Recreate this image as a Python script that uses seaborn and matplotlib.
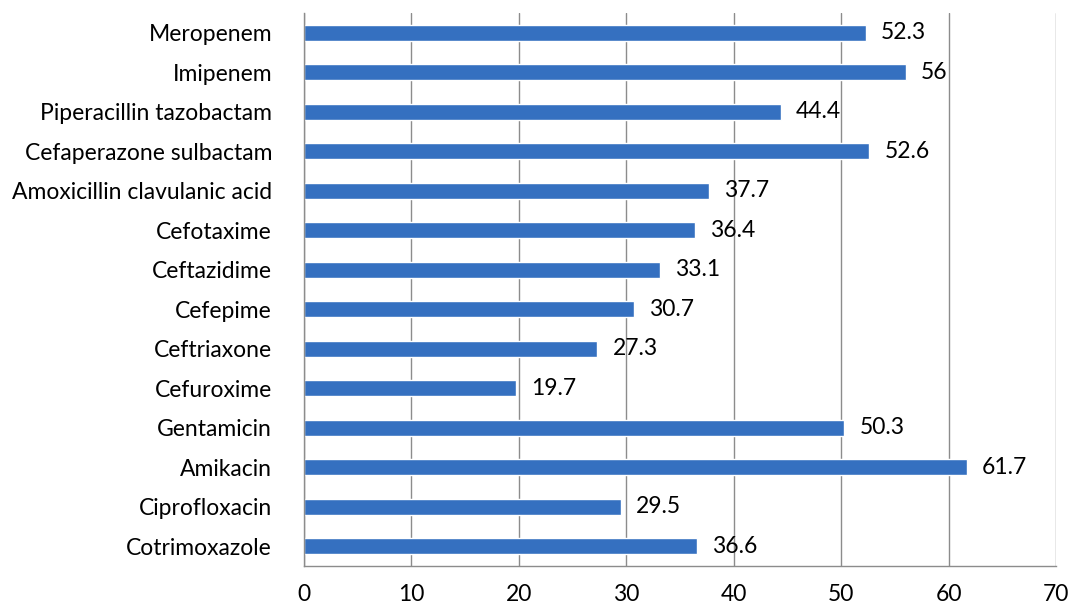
import pandas as pd
import matplotlib.pyplot as plt
import seaborn as sns

# Datos (de arriba hacia abajo)
drugs = ['Meropenem', 'Imipenem', 'Piperacillin tazobactam', 'Cefaperazone sulbactam',
         'Amoxicillin clavulanic acid', 'Cefotaxime', 'Ceftazidime', 'Cefepime',
         'Ceftriaxone', 'Cefuroxime', 'Gentamicin', 'Amikacin', 'Ciprofloxacin',
         'Cotrimoxazole']
values = [52.3, 56, 44.4, 52.6, 37.7, 36.4, 33.1, 30.7, 27.3, 19.7, 50.3, 61.7, 29.5, 36.6]
x_ticks = [0, 10, 20, 30, 40, 50, 60, 70]

df = pd.DataFrame({'drug': drugs, 'value': values})

sns.set_style('white')
plt.rcParams['font.family'] = ['Lato', 'DejaVu Sans']
plt.rcParams['text.color'] = 'black'
plt.rcParams['xtick.color'] = 'black'
plt.rcParams['ytick.color'] = 'black'

fig = plt.figure(figsize=(10.73, 6.09), dpi=100)
ax = fig.add_axes([0.2833, 0.0706, 0.7008, 0.9080])

sns.barplot(data=df, x='value', y='drug', orient='h', color='#3570C0',
            width=0.4, saturation=1, ax=ax)

ax.bar_label(ax.containers[0], fmt='%g', padding=11, fontsize=16.5, color='black')

ax.set_xlim(0, 70)
ax.set_ylim(len(drugs) - 0.5, -0.5)
ax.set_xticks(x_ticks)
ax.set_xlabel('')
ax.set_ylabel('')

# Líneas de la cuadrícula verticales
ax.grid(axis='x', color='#8c8c8c', linewidth=1)
ax.grid(axis='y', visible=False)
ax.set_axisbelow(True)

for side in ['top', 'right']:
    ax.spines[side].set_visible(False)
for side in ['left', 'bottom']:
    ax.spines[side].set_color('#8c8c8c')
    ax.spines[side].set_linewidth(1)

# Marcas del eje y en los límites entre categorías
ax.set_yticks([i - 0.5 for i in range(len(drugs) + 1)], minor=True)
ax.tick_params(axis='y', which='major', length=0, pad=23, labelsize=16.5,
               labelcolor='black')
ax.tick_params(axis='y', which='minor', length=7, color='#8c8c8c', width=1)
ax.tick_params(axis='x', which='major', length=7, color='#8c8c8c', width=1,
               labelsize=16.5, pad=6, labelcolor='black')

plt.savefig('out.png', dpi=100)
